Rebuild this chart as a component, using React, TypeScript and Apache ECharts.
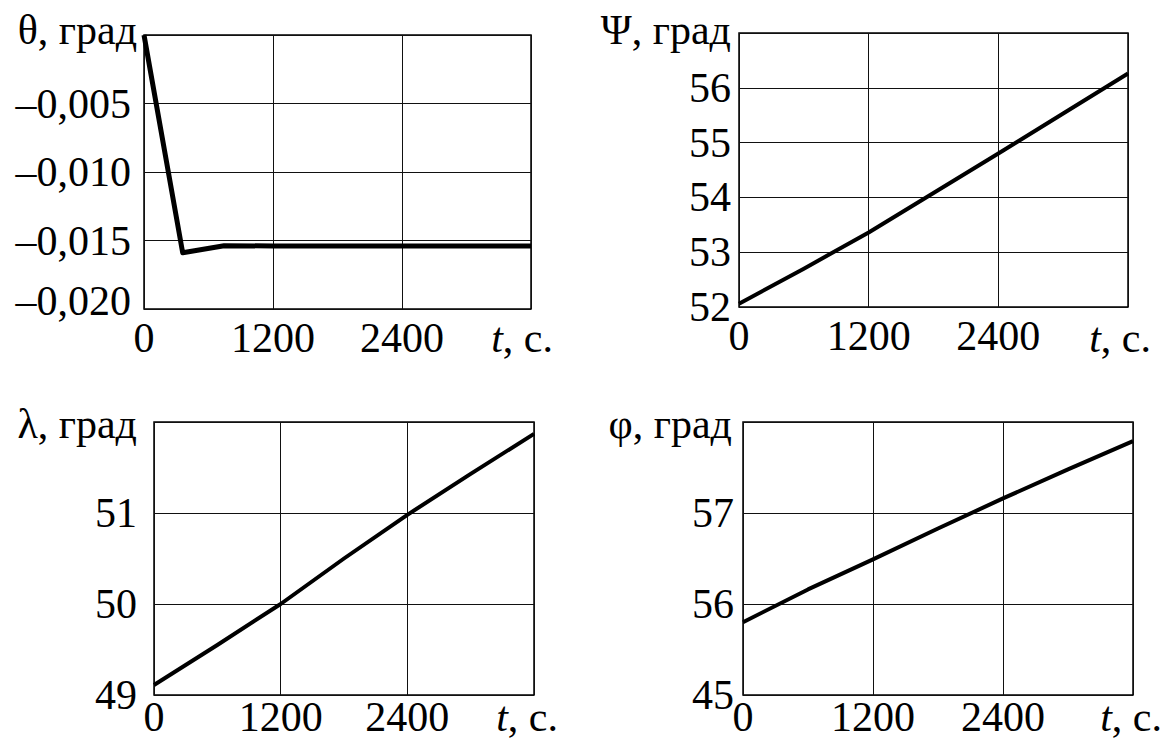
import React, { useEffect, useRef } from "react";
import * as echarts from "echarts";

// Time samples, s
const timeSec = [0, 600, 1200, 1800, 2400, 3000, 3600];
const thetaTimeSec = [0, 360, 745, 1200, 1800, 2400, 3000, 3600];

// Readings, degrees
const thetaDeg = [0, -0.0159, -0.01538, -0.0154, -0.0154, -0.0154, -0.0154, -0.0154];
const psiDeg = [52.06, 52.7, 53.36, 54.08, 54.8, 55.53, 56.26];
const lambdaDeg = [49.11, 49.55, 50.0, 50.5, 50.98, 51.43, 51.87];
const phiDeg = [55.8, 56.16, 56.49, 56.83, 57.16, 57.48, 57.79];

// Tick labels, listed from the axis minimum upwards
const timeTickLabels = ["0", "1200", "2400"];
const thetaTickLabels = ["–0,020", "–0,015", "–0,010", "–0,005"];
const psiTickLabels = ["52", "53", "54", "55", "56"];
const lambdaTickLabels = ["49", "50", "51"];
const phiTickLabels = ["45", "56", "57"];

// Axis titles
const yTitles = ["θ, град", "Ψ, град", "λ, град", "φ, град"];
const xTitle = "{i|t}, с.";

const FONT = "'Liberation Serif', 'Times New Roman', 'DejaVu Serif', serif";
const FS = 42;

type Panel = {
  left: number;
  top: number;
  width: number;
  height: number;
  yMin: number;
  yMax: number;
  yStep: number;
  yLabels: string[];
  yLabelGap: number;
  xLabelGap: number;
  t: number[];
  v: number[];
  lineWidth: number;
  titleX: number;
  titleY: number;
  tX: number;
  tY: number;
};

const panels: Panel[] = [
  {
    left: 144, top: 35, width: 387, height: 274,
    yMin: -0.02, yMax: 0, yStep: 0.005, yLabels: thetaTickLabels, yLabelGap: 13, xLabelGap: 8,
    t: thetaTimeSec, v: thetaDeg, lineWidth: 5,
    titleX: 137, titleY: 30, tX: 553, tY: 338,
  },
  {
    left: 739, top: 33, width: 389, height: 274,
    yMin: 52, yMax: 57, yStep: 1, yLabels: psiTickLabels, yLabelGap: 8, xLabelGap: 8,
    t: timeSec, v: psiDeg, lineWidth: 4,
    titleX: 731, titleY: 30, tX: 1151, tY: 338,
  },
  {
    left: 154, top: 422, width: 380, height: 273,
    yMin: 49, yMax: 52, yStep: 1, yLabels: lambdaTickLabels, yLabelGap: 17, xLabelGap: 1,
    t: timeSec, v: lambdaDeg, lineWidth: 4,
    titleX: 137, titleY: 424, tX: 558, tY: 717,
  },
  {
    left: 743, top: 422, width: 390, height: 273,
    yMin: 55, yMax: 58, yStep: 1, yLabels: phiTickLabels, yLabelGap: 9, xLabelGap: 1,
    t: timeSec, v: phiDeg, lineWidth: 4,
    titleX: 732, titleY: 424, tX: 1162, tY: 717,
  },
];

function buildOption(): echarts.EChartsOption {
  const grid = panels.map((p) => ({
    left: p.left,
    top: p.top,
    width: p.width,
    height: p.height,
    show: true,
    borderColor: "#000",
    borderWidth: 1.5,
    backgroundColor: "transparent",
    containLabel: false,
    outerBoundsMode: "none",
  }));

  const xAxis = panels.map((p, i) => ({
    type: "value" as const,
    gridIndex: i,
    min: 0,
    max: 3600,
    interval: 1200,
    axisLine: { show: false },
    axisTick: { show: false },
    splitLine: { show: true, lineStyle: { color: "#111", width: 1 } },
    axisLabel: {
      show: true,
      showMaxLabel: false,
      margin: p.xLabelGap,
      color: "#000",
      fontFamily: FONT,
      fontSize: FS,
      lineHeight: FS,
      formatter: (value: number) => {
        const idx = Math.round(value / 1200);
        return timeTickLabels[idx] ?? "";
      },
    },
  }));

  const yAxis = panels.map((p, i) => ({
    type: "value" as const,
    gridIndex: i,
    min: p.yMin,
    max: p.yMax,
    interval: p.yStep,
    axisLine: { show: false },
    axisTick: { show: false },
    splitLine: { show: true, lineStyle: { color: "#111", width: 1 } },
    axisLabel: {
      show: true,
      showMaxLabel: false,
      margin: p.yLabelGap,
      color: "#000",
      fontFamily: FONT,
      fontSize: FS,
      lineHeight: FS,
      formatter: (value: number) => {
        const idx = Math.round((value - p.yMin) / p.yStep);
        const label = p.yLabels[idx] ?? "";
        if (i === 0 && idx === 0) return `{low|${label}}`;
        return label;
      },
      rich: {
        low: {
          fontFamily: FONT,
          fontSize: FS,
          lineHeight: FS,
          color: "#000",
          padding: [0, 0, 16, 0],
        },
      },
    },
  }));

  const series = panels.map((p, i) => ({
    type: "line" as const,
    xAxisIndex: i,
    yAxisIndex: i,
    data: p.t.map((t, k) => [t, p.v[k]]),
    showSymbol: false,
    symbol: "none",
    lineStyle: { color: "#000", width: p.lineWidth, join: "round" as const },
    clip: false,
    z: 5,
  }));

  const graphic: any[] = [];
  panels.forEach((p, i) => {
    graphic.push({
      type: "text",
      x: p.titleX,
      y: p.titleY,
      style: {
        text: yTitles[i],
        font: `${FS}px ${FONT}`,
        fill: "#000",
        textAlign: "right",
        textVerticalAlign: "middle",
        verticalAlign: "middle",
      },
    });
    graphic.push({
      type: "text",
      x: p.tX,
      y: p.tY,
      style: {
        text: xTitle,
        font: `${FS}px ${FONT}`,
        fontFamily: FONT,
        fontSize: FS,
        lineHeight: FS,
        fill: "#000",
        textAlign: "right",
        textVerticalAlign: "middle",
        verticalAlign: "middle",
        rich: {
          i: { fontStyle: "italic", fontFamily: FONT, fontSize: FS, lineHeight: FS, fill: "#000" },
        },
      },
    });
  });

  return {
    animation: false,
    backgroundColor: "#fff",
    grid,
    xAxis,
    yAxis,
    series,
    graphic,
  } as echarts.EChartsOption;
}

export default function App() {
  const ref = useRef<HTMLDivElement>(null);

  useEffect(() => {
    if (!ref.current) return;
    const chart = echarts.init(ref.current, undefined, { renderer: "svg" });
    chart.setOption(buildOption());
    return () => chart.dispose();
  }, []);

  return (
    <div
      ref={ref}
      style={{ position: "absolute", left: 0, top: 0, width: 1165, height: 743, background: "#fff" }}
    />
  );
}
